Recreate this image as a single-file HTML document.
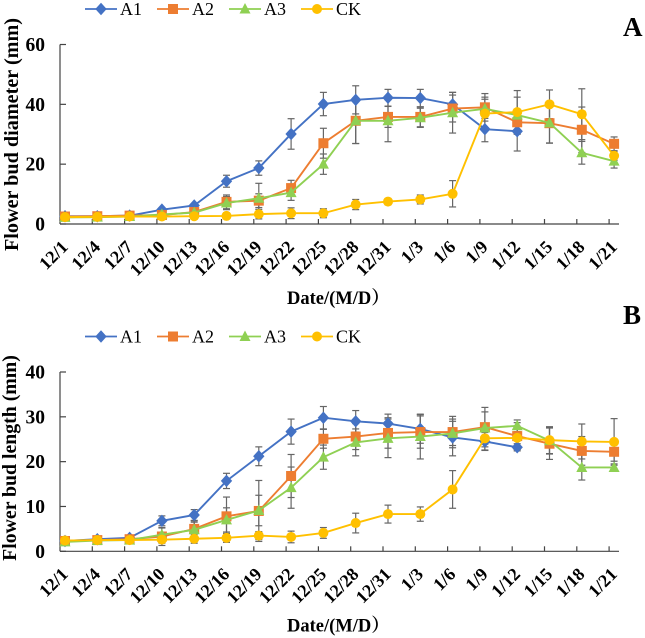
<!DOCTYPE html>
<html>
<head>
<meta charset="utf-8">
<style>
html,body{margin:0;padding:0;background:#fff;}
svg{display:block;filter:blur(0.35px);}
text{font-family:"Liberation Serif","Noto Serif CJK SC",serif;fill:#000;}
</style>
</head>
<body>
<svg id="chart" xmlns="http://www.w3.org/2000/svg" width="645" height="638" viewBox="0 0 645 638"></svg>
<script>
const categories = ['12/1','12/4','12/7','12/10','12/13','12/16','12/19','12/22','12/25','12/28','12/31','1/3','1/6','1/9','1/12','1/15','1/18','1/21'];
const seriesNames = ['A1','A2','A3','CK'];

const diameterTicks = [0,20,40,60];
const diameterA1 = [2.6,2.6,2.8,4.8,6.2,14.3,18.7,30.1,40.1,41.5,42.2,42.1,40,31.7,31,null,null,null];
const diameterA2 = [2.5,2.6,2.8,3.0,4.0,7.4,7.8,12,27,34.5,35.8,35.8,38.6,39,34,33.7,31.5,26.8];
const diameterA3 = [2.2,2.3,2.5,3.2,3.8,7,8.6,10.5,20,34.5,34.5,35.5,37.2,38.5,36.4,33.8,23.8,21];
const diameterCK = [2.3,2.4,2.5,2.5,2.6,2.7,3.3,3.6,3.6,6.5,7.5,8.2,10.1,36.9,37.4,40,36.7,22.8];
const diameterErrA1 = [0.4,0.4,0.4,0.5,0.6,2,2.4,5.1,3.9,4.7,2.8,2.9,4,4.2,6.6,0,0,0];
const diameterErrA2 = [0.3,0.3,0.3,0.4,0.5,2.3,2.3,2.6,5,7.6,3.5,3.3,4.5,4.6,4,6.7,7.6,2.3];
const diameterErrA3 = [0.3,0.3,0.3,0.4,0.5,2.2,5,2.6,3.4,7.6,7,3.2,6.8,3.2,6,6.7,3.8,2.3];
const diameterErrCK = [0.4,0.4,0.4,0.5,0.6,1,1.6,1.8,1.5,1.7,1,1.5,4.4,5.5,7.2,4.8,8.5,1.5];

const lengthTicks = [0,10,20,30,40];
const lengthA1 = [2.3,2.7,3.0,6.8,8.1,15.7,21.2,26.7,29.8,29,28.5,27.3,25.4,24.5,23.2,null,null,null];
const lengthA2 = [2.3,2.5,2.7,3.3,5,7.8,9,16.8,25.1,25.6,26.4,26.6,26.6,27.7,25.7,24,22.4,22.2];
const lengthA3 = [2.1,2.4,2.5,3.7,4.8,7,9.1,14.2,21,24.3,25.2,25.6,26.3,27.5,28,24.7,18.7,18.7];
const lengthCK = [2.4,2.5,2.5,2.6,2.8,3,3.5,3.2,4.1,6.3,8.3,8.3,13.8,25.2,25.3,24.8,24.5,24.4];
const lengthErrA1 = [0.4,0.5,0.5,1.1,1.2,1.7,2.1,2.8,2.5,2.4,2.1,3.2,4.1,2,0.8,0,0,0];
const lengthErrA2 = [0.3,0.3,0.4,2,1.8,4.3,6.8,4.8,2.1,2.9,3.4,3.6,3.5,4.4,3,3.5,3.2,2.1];
const lengthErrA3 = [0.3,0.3,0.3,1.5,1.7,2.7,3.4,4.6,2.7,3,4.3,5,2.7,3.6,1.3,3,2.8,0.8];
const lengthErrCK = [0.4,0.4,0.4,0.8,1,1,0.9,1.3,1.2,2.2,2,1.6,4.2,2.6,2.6,3,3.9,5.2];

const NS = 'http://www.w3.org/2000/svg';
const svg = document.getElementById('chart');
const colors = ['#4472c4','#ed7d31','#8fd053','#ffc000'];
const X0 = 60, XEND = 619, STEP = 32.3, MARKER_OFFSET = 5;

function make(tag, parent, attrs, text) {
  const el = document.createElementNS(NS, tag);
  for (const k in attrs) el.setAttribute(k, attrs[k]);
  if (text !== undefined) el.textContent = text;
  parent.appendChild(el);
  return el;
}
function xScale(i) { return X0 + MARKER_OFFSET + STEP * i; }

function drawMarker(parent, kind, x, y, color) {
  let m;
  if (kind === 0) {
    m = make('polygon', parent, {points:[x,y-5.5,x+5,y,x,y+5.5,x-5,y].join(' '), fill:color, stroke:color, 'stroke-width':1});
  } else if (kind === 1) {
    m = make('rect', parent, {x:x-5,y:y-5,width:10,height:10,fill:color});
  } else if (kind === 2) {
    m = make('polygon', parent, {points:[x,y-6,x+5.5,y+4.5,x-5.5,y+4.5].join(' '), fill:color});
  } else {
    m = make('circle', parent, {cx:x,cy:y,r:5,fill:color});
  }
  return m;
}

function drawLegend(parent, y) {
  const lineStarts = [85,157,229,301];
  seriesNames.forEach(function (name, s) {
    const g = make('g', parent, {});
    
    
    const x1 = lineStarts[s];
    make('line', g, {x1:x1, x2:x1+32, y1:y, y2:y, stroke:colors[s], 'stroke-width':1.8});
    drawMarker(g, s, x1+16, y, colors[s]);
    make('text', g, {x:x1+35, y:y+6, 'font-size':18}, name);
  });
}

function drawPanel(cfg) {
  const panel = make('g', svg, {});
  
  
  const maxV = cfg.ticks[cfg.ticks.length - 1];
  const yScale = function (v) { return cfg.y0 - (v / maxV) * (cfg.y0 - cfg.yTop); };

  drawLegend(panel, cfg.legendY);

  const axes = make('g', panel, {stroke:'#444', 'stroke-width':1.2, fill:'none'});
  
  
  make('line', axes, {x1:X0, x2:X0, y1:cfg.yTop, y2:cfg.y0});
  make('line', axes, {x1:X0, x2:XEND, y1:cfg.y0, y2:cfg.y0});
  cfg.ticks.forEach(function (t) {
    const y = yScale(t);
    make('line', axes, {x1:X0, x2:X0+6, y1:y, y2:y});
    const label = make('text', panel, {x:45, y:y+6.5, 'text-anchor':'end', 'font-size':19.5, 'font-weight':'bold'}, String(t));
    
    
  });
  categories.forEach(function (c, i) {
    const tx = X0 + STEP * i;
    if (i > 0) make('line', axes, {x1:tx, x2:tx, y1:cfg.y0-5, y2:cfg.y0});
    const lx = xScale(i) + 4, ly = cfg.y0 + 24;
    const label = make('text', panel, {x:lx, y:ly, 'text-anchor':'end', 'font-size':18, 'font-weight':'bold', transform:'rotate(-45 ' + lx + ' ' + ly + ')'}, c);
    
    
  });

  const errs = make('g', panel, {stroke:'#666', 'stroke-width':1.2, fill:'none'});
  
  
  cfg.series.forEach(function (vals, s) {
    vals.forEach(function (v, i) {
      if (v === null) return;
      const e = cfg.errors[s][i];
      const x = xScale(i), a = yScale(v + e), b = yScale(Math.max(v - e, 0));
      make('line', errs, {x1:x, x2:x, y1:a, y2:b});
      make('line', errs, {x1:x-3.5, x2:x+3.5, y1:a, y2:a});
      make('line', errs, {x1:x-3.5, x2:x+3.5, y1:b, y2:b});
    });
  });

  cfg.series.forEach(function (vals, s) {
    const g = make('g', panel, {});
    
    
    const pts = [];
    vals.forEach(function (v, i) { if (v !== null) pts.push(xScale(i) + ',' + yScale(v)); });
    make('polyline', g, {points:pts.join(' '), fill:'none', stroke:colors[s], 'stroke-width':1.9});
    vals.forEach(function (v, i) {
      if (v === null) return;
      drawMarker(g, s, xScale(i), yScale(v), colors[s]);
    });
  });

  const yt = make('text', panel, {x:0, y:0, 'text-anchor':'middle', 'font-size':cfg.yTitleSize, 'font-weight':'bold', transform:'translate(' + cfg.yTitleX + ' ' + cfg.yTitleY + ') rotate(-90)'}, cfg.yTitle);
  
  

  const xt = make('text', panel, {x:287, y:cfg.y0 + 80, 'font-size':18.5, 'font-weight':'bold'}, 'Date/(M/D）');
  
  

  const pl = make('text', panel, {x:623, y:cfg.letterY, 'font-size':27, 'font-weight':'bold'}, cfg.letter);
  
  
}

drawPanel({
  name:'panel-a-diameter', ticks:diameterTicks, y0:224, yTop:44.5, legendY:9,
  series:[diameterA1,diameterA2,diameterA3,diameterCK],
  errors:[diameterErrA1,diameterErrA2,diameterErrA3,diameterErrCK],
  yTitle:'Flower bud diameter (mm)', yTitleX:18, yTitleY:134.5, yTitleSize:20.2,
  letter:'A', letterY:36
});
drawPanel({
  name:'panel-b-length', ticks:lengthTicks, y0:551.3, yTop:372, legendY:336.5,
  series:[lengthA1,lengthA2,lengthA3,lengthCK],
  errors:[lengthErrA1,lengthErrA2,lengthErrA3,lengthErrCK],
  yTitle:'Flower bud length (mm)', yTitleX:16, yTitleY:458, yTitleSize:19.8,
  letter:'B', letterY:324
});
</script>
</body>
</html>
